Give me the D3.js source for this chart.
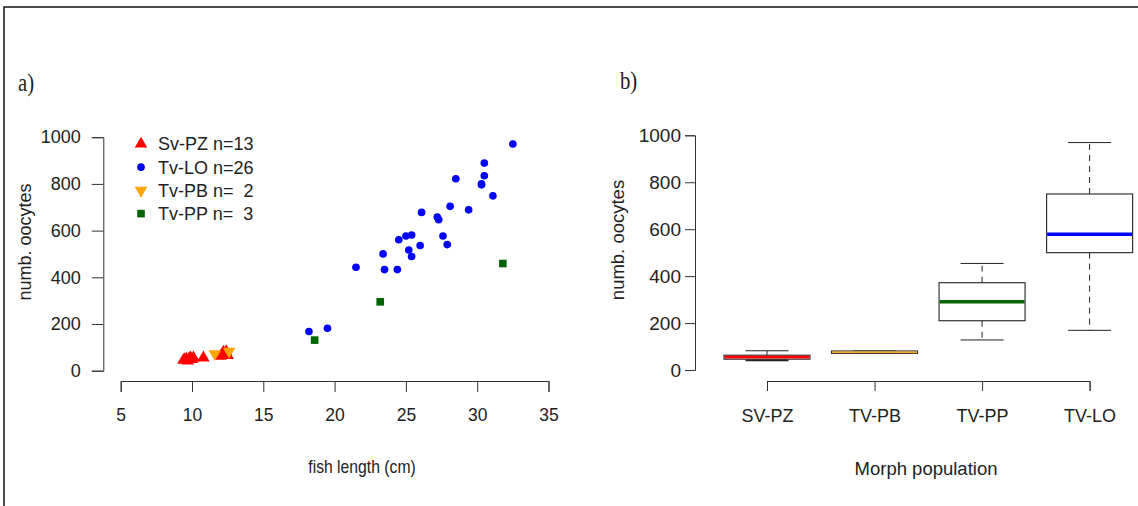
<!DOCTYPE html>
<html>
<head>
<meta charset="utf-8">
<script src="https://cdn.jsdelivr.net/npm/d3@7"></script>
<style>
  body { margin: 0; background: #fff; }
  svg { display: block; }
  text { font-family: "Liberation Sans", Arial, sans-serif; fill: #222; }
</style>
</head>
<body>
<svg width="1138" height="506"></svg>
<script>
// ---- data ----
// panel a: fish length (cm) vs number of oocytes
const pzLength = [9.4, 9.5, 9.6, 9.7, 9.8, 9.9, 10.0, 10.1, 10.8, 12.0, 12.2, 12.4, 12.5]
const pzOocytes = [45, 48, 50, 42, 52, 55, 48, 56, 55, 62, 80, 82, 66]
const loLength = [18.2, 19.5, 21.5, 23.4, 23.5, 24.4, 24.5, 25.0, 25.4, 25.2, 25.4, 26.0, 26.1,
  27.2, 27.3, 27.6, 27.9, 28.1, 28.5, 29.4, 30.3, 30.3, 30.5, 30.5, 31.1, 32.5]
const loOocytes = [168, 182, 443, 500, 433, 433, 561, 577, 581, 517, 489, 536, 678,
  658, 647, 577, 540, 704, 822, 689, 796, 800, 835, 889, 749, 971]
const pbLength = [11.6, 12.6]
const pbOocytes = [72, 83]
const ppLength = [18.6, 23.2, 31.8]
const ppOocytes = [131, 295, 459]

const legendLabels = ['Sv-PZ n=13', 'Tv-LO n=26', 'Tv-PB n=  2', 'Tv-PP n=  3']
const xTicksA = [5, 10, 15, 20, 25, 30, 35]
const yTicks = [0, 200, 400, 600, 800, 1000]

// panel b: box plot stats per morph population
const morphs = ['SV-PZ', 'TV-PB', 'TV-PP', 'TV-LO']
const whiskLow = [43, 71, 128, 169]
const boxQ1 = [46, 71, 210, 500]
const boxMedian = [55, 76, 291, 578]
const boxQ3 = [63, 81, 372, 750]
const whiskHigh = [82, 81, 454, 969]
const morphColors = ['#ff0000', '#ffa500', '#006400', '#0000ff']

const svg = d3.select('svg')
const ink = '#222'

// outer frame
svg.append('rect')
  .attr('x', 4).attr('y', 7)
  .attr('width', 1150).attr('height', 520)
  .attr('fill', 'none').attr('stroke', '#111').attr('stroke-width', 1.5)

// panel letters
svg.append('text').attr('transform', 'translate(18,91) scale(0.9,1.1)')
  .style('font-family', '"Liberation Serif", serif').style('font-size', '23px')
  .text('a)')
svg.append('text').attr('transform', 'translate(620,89) scale(0.9,1.1)')
  .style('font-family', '"Liberation Serif", serif').style('font-size', '23px')
  .text('b)')

const styleAxis = (g) => {
  g.selectAll('path, line').attr('stroke', '#333').attr('stroke-width', 1)
  g.selectAll('text').attr('fill', ink).style('font-size', '18px')
    .style('font-family', '"Liberation Sans", Arial, sans-serif')
}

// ---------- panel a ----------
const xA = d3.scaleLinear().domain([5, 35]).range([120.7, 548.5])
const yA = d3.scaleLinear().domain([0, 1000]).range([370.7, 137.2])

svg.append('g')
  .attr('transform', 'translate(0,381)')
  .call(d3.axisBottom(xA).tickValues(xTicksA).tickFormat(d3.format('d'))
    .tickSizeOuter(0).tickSize(11).tickPadding(17))
  .call(styleAxis)
  .call((g) => g.selectAll('text').style('font-size', '17.5px'))

svg.append('g')
  .attr('transform', 'translate(103.3,0)')
  .call(d3.axisLeft(yA).tickValues(yTicks).tickFormat(d3.format('d'))
    .tickSizeOuter(0).tickSize(11.5).tickPadding(11))
  .call(styleAxis)

svg.append('text')
  .attr('transform', 'translate(362,473) scale(0.85,1)')
  .attr('text-anchor', 'middle').style('font-size', '18.5px')
  .text('fish length (cm)')

svg.append('text')
  .attr('transform', 'translate(31,242) rotate(-90)')
  .attr('text-anchor', 'middle').style('font-size', '18px')
  .text('numb. oocytes')

const symTri = d3.symbol().type(d3.symbolTriangle).size(68)
const symCircle = d3.symbol().type(d3.symbolCircle).size(46)
const symSquare = d3.symbol().type(d3.symbolSquare).size(58)

const pts = svg.append('g')
const addPoints = (lens, vals, path, color, flip) => {
  pts.append('g').selectAll('path')
    .data(lens.map((l, i) => [xA(l), yA(vals[i])]))
    .join('path')
    .attr('d', path)
    .attr('fill', color)
    .attr('transform', (d) => `translate(${d[0]},${d[1]})${flip ? ' rotate(180)' : ''}`)
}
addPoints(ppLength, ppOocytes, symSquare, morphColors[2], false)
addPoints(loLength, loOocytes, symCircle, morphColors[3], false)
addPoints(pzLength, pzOocytes, symTri, morphColors[0], false)
addPoints(pbLength, pbOocytes, symTri, morphColors[1], true)

// legend
const legendSyms = [symTri, symCircle, symTri, symSquare]
const legendCols = [morphColors[0], morphColors[3], morphColors[1], morphColors[2]]
const legend = svg.append('g')
legendLabels.forEach((lab, i) => {
  const y = 144 + i * 23.2
  legend.append('path')
    .attr('d', legendSyms[i])
    .attr('fill', legendCols[i])
    .attr('transform', `translate(141,${y})${i === 2 ? ' rotate(180)' : ''}`)
  legend.append('text')
    .attr('x', 158).attr('y', y).attr('dy', '0.35em')
    .attr('xml:space', 'preserve')
    .style('white-space', 'pre')
    .style('font-size', '18px')
    .text(lab)
})

// ---------- panel b ----------
const xB = d3.scalePoint().domain(morphs).range([767, 1089.6])
const yB = d3.scaleLinear().domain([0, 1000]).range([370, 135.3])
const boxW = 86

svg.append('g')
  .attr('transform', 'translate(0,381)')
  .call(d3.axisBottom(xB).tickSizeOuter(0).tickSize(10).tickPadding(18))
  .call(styleAxis)

svg.append('g')
  .attr('transform', 'translate(695,0)')
  .call(d3.axisLeft(yB).tickValues(yTicks).tickFormat(d3.format('d'))
    .tickSizeOuter(0).tickSize(10).tickPadding(4))
  .call(styleAxis)
  .call((g) => g.selectAll('text').style('font-size', '19px'))

svg.append('text')
  .attr('x', 926).attr('y', 475)
  .attr('text-anchor', 'middle').style('font-size', '18.5px')
  .text('Morph population')

svg.append('text')
  .attr('transform', 'translate(624,240) rotate(-90)')
  .attr('text-anchor', 'middle').style('font-size', '18.5px')
  .text('numb. oocytes')

const boxes = svg.append('g')
  .selectAll('g')
  .data(morphs)
  .join('g')

// whiskers (dashed)
boxes.append('line')
  .attr('x1', (d) => xB(d)).attr('x2', (d) => xB(d))
  .attr('y1', (d, i) => yB(boxQ3[i])).attr('y2', (d, i) => yB(whiskHigh[i]))
  .attr('stroke', '#222').attr('stroke-dasharray', '6,5')
boxes.append('line')
  .attr('x1', (d) => xB(d)).attr('x2', (d) => xB(d))
  .attr('y1', (d, i) => yB(boxQ1[i])).attr('y2', (d, i) => yB(whiskLow[i]))
  .attr('stroke', '#222').attr('stroke-dasharray', '6,5')
// staples
boxes.append('line')
  .attr('x1', (d) => xB(d) - boxW / 4).attr('x2', (d) => xB(d) + boxW / 4)
  .attr('y1', (d, i) => yB(whiskHigh[i])).attr('y2', (d, i) => yB(whiskHigh[i]))
  .attr('stroke', '#222')
boxes.append('line')
  .attr('x1', (d) => xB(d) - boxW / 4).attr('x2', (d) => xB(d) + boxW / 4)
  .attr('y1', (d, i) => yB(whiskLow[i])).attr('y2', (d, i) => yB(whiskLow[i]))
  .attr('stroke', '#222').attr('stroke-width', (d, i) => (i === 0 ? 2.5 : 1))
// box
const boxH = (i) => yB(boxQ1[i]) - yB(boxQ3[i])
boxes.append('rect')
  .attr('x', (d) => xB(d) - boxW / 2)
  .attr('width', boxW)
  .attr('y', (d, i) => yB(boxQ3[i]))
  .attr('height', (d, i) => Math.max(boxH(i), 1))
  .attr('fill', '#fff').attr('stroke', '#333').attr('stroke-width', 1.2)
// median, kept inside the box when the box is very flat
boxes.append('line')
  .attr('x1', (d) => xB(d) - boxW / 2 + 0.6).attr('x2', (d) => xB(d) + boxW / 2 - 0.6)
  .attr('y1', (d, i) => yB(boxMedian[i])).attr('y2', (d, i) => yB(boxMedian[i]))
  .attr('stroke', (d, i) => morphColors[i])
  .attr('stroke-width', (d, i) => Math.max(1, Math.min(3.5, boxH(i) - 1.2)))
</script>
</body>
</html>
